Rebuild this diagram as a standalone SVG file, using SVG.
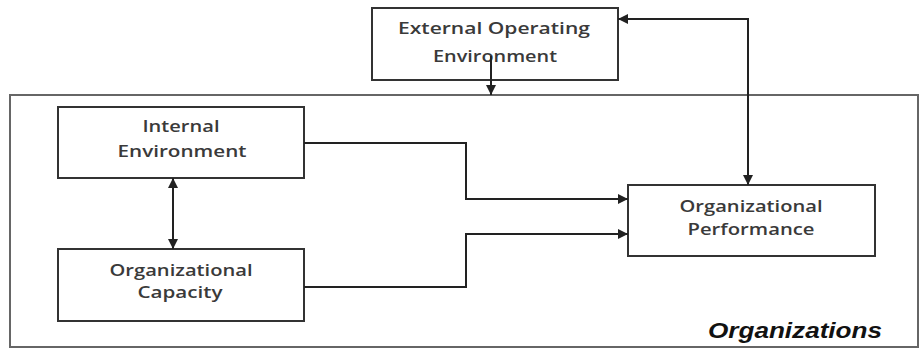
<svg xmlns="http://www.w3.org/2000/svg" width="919" height="349" viewBox="0 0 919 349">
<style>
.box{fill:#fff;stroke:#333;stroke-width:2}
.outer{fill:none;stroke:#666;stroke-width:2}
.lbl{font-family:"Open Sans","Liberation Sans",sans-serif;font-size:17px;font-weight:600;fill:#3a3a3a;text-anchor:middle}
.conn{fill:none;stroke:#222;stroke-width:2}
.org{font-family:"Liberation Sans",Arial,sans-serif;font-size:22px;font-weight:bold;font-style:italic;fill:#111}
</style>
<defs>
<marker id="ah" viewBox="0 0 10 10" refX="10" refY="5" markerWidth="5" markerHeight="5" orient="auto-start-reverse" markerUnits="strokeWidth">
<path d="M0,0 L10,5 L0,10 z" fill="#222"/>
</marker>
</defs>
<rect class="outer" x="10" y="95" width="908" height="252"/>
<g id="external">
<rect class="box" x="372" y="8" width="246" height="72"/>
<text class="lbl" x="494" y="34" textLength="192" lengthAdjust="spacingAndGlyphs">External Operating</text>
<text class="lbl" x="495" y="62" textLength="124" lengthAdjust="spacingAndGlyphs">Environment</text>
</g>
<g id="internal">
<rect class="box" x="58" y="107" width="246" height="71"/>
<text class="lbl" x="181" y="132" textLength="77" lengthAdjust="spacingAndGlyphs">Internal</text>
<text class="lbl" x="182" y="157" textLength="129" lengthAdjust="spacingAndGlyphs">Environment</text>
</g>
<g id="capacity">
<rect class="box" x="58" y="249" width="246" height="72"/>
<text class="lbl" x="181" y="276" textLength="143" lengthAdjust="spacingAndGlyphs">Organizational</text>
<text class="lbl" x="180" y="298" textLength="85" lengthAdjust="spacingAndGlyphs">Capacity</text>
</g>
<g id="performance">
<rect class="box" x="628" y="185" width="247" height="71"/>
<text class="lbl" x="751" y="212" textLength="143" lengthAdjust="spacingAndGlyphs">Organizational</text>
<text class="lbl" x="751" y="235" textLength="127" lengthAdjust="spacingAndGlyphs">Performance</text>
</g>
<g id="organizations">
<text class="org" x="708" y="338" textLength="174" lengthAdjust="spacingAndGlyphs">Organizations</text>
</g>
<g id="connectors">
<path class="conn" d="M491,56 V95" marker-end="url(#ah)"/>
<path class="conn" d="M618,19 H748 V185" marker-start="url(#ah)" marker-end="url(#ah)"/>
<path class="conn" d="M173,178 V249" marker-start="url(#ah)" marker-end="url(#ah)"/>
<path class="conn" d="M304,143 H466 V199 H628" marker-end="url(#ah)"/>
<path class="conn" d="M304,287 H466 V234 H628" marker-end="url(#ah)"/>
</g>
</svg>
